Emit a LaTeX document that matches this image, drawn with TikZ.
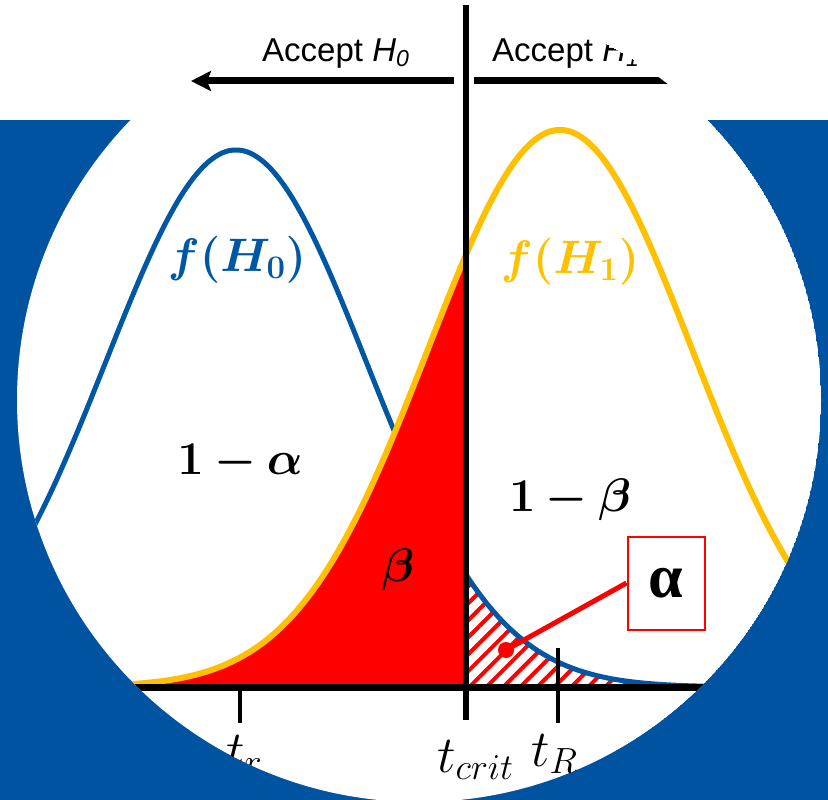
\RequirePackage{fix-cm}
\documentclass[tikz,border=0pt]{standalone}
\usepackage{amsmath}
\usepackage{bm}
\usepackage{fontspec}
\newfontfamily\arialfont{Liberation Sans}
\newfontfamily\timesfont{Liberation Serif}
\usepackage{xcolor}
\usepackage{tikz}
\usetikzlibrary{arrows.meta, patterns.meta}
\definecolor{bgblue}{HTML}{0053A0}
\definecolor{hzero}{HTML}{0057A4}
\definecolor{hone}{HTML}{FFC000}
\definecolor{betared}{HTML}{FF0000}

\begin{document}
\begin{tikzpicture}[
    x=1pt, y=-1pt,
    every node/.style={inner sep=0pt},
    curve/.style={line width=5pt, smooth, samples=120},
    arrow/.style={line width=7pt, -{Stealth[length=20pt, width=20pt, inset=4pt]}},
    tickline/.style={line width=4pt},
    acc/.style={font=\arialfont\fontsize{33}{36}\selectfont, anchor=base west},
    tlab/.style={font=\fontsize{52}{58}\selectfont, anchor=base west},
    big/.style={font=\fontsize{47}{52}\selectfont},
    declare function={
        gzero(\t)=687-537*exp(-0.5*((\t-236)/130)*((\t-236)/130));
        gone(\t)=687-557*exp(-0.5*((\t-560)/132)*((\t-560)/132));
    },
]
\useasboundingbox (0,0) rectangle (828,800);

% Background: blue band and white disc
\fill[white] (0,0) rectangle (828,800);
\fill[bgblue] (0,120) rectangle (828,800);

\begin{scope}
\clip (419,400) circle (402);
\fill[white] (419,400) circle (402);

% alpha: tail of f(H0) right of t_crit
\fill[pattern={Lines[angle=45, distance=12pt, line width=4pt]}, pattern color=betared]
    (466,687) -- plot[domain=466:828, samples=60] (\x,{gzero(\x)}) -- (828,687) -- cycle;
\draw[hzero, curve] plot[domain=0:828] (\x,{gzero(\x)});

% beta: f(H1) left of t_crit
\fill[betared] (0,687) -- plot[domain=0:466, samples=80] (\x,{gone(\x)}) -- (466,687) -- cycle;
\draw[hone, curve, line width=6pt] plot[domain=0:828] (\x,{gone(\x)});

% Axis, critical line and ticks
\draw[line width=7pt] (0,687) -- (828,687);
\coordinate (ctop) at (466,5);
\coordinate (cbot) at (466,720);
\draw[line width=6pt] (ctop) -- (cbot);
\draw[tickline] (240,687) -- (240,723);
\draw[tickline] (558,648) -- (558,723);

% Decision arrows
\coordinate (larr0) at (454,81);
\coordinate (larr1) at (191,81);
\coordinate (rarr0) at (474,81);
\coordinate (rarr1) at (700,81);
\draw[arrow] (larr0) -- (larr1);
\draw[arrow] (rarr0) -- (rarr1);
\node[acc] (acch0) at (262,62) {Accept \textit{H}\textsubscript{\textit{0}}};
\node[acc] (acch1) at (492,62) {Accept \textit{H}\textsubscript{\textit{1}}};

% Curve and area labels
\node[big, text=hzero] (fh0) at (237,260) {$\bm{f(H_0)}$};
\node[big, text=hone] (fh1) at (570,262) {$\bm{f(H_1)}$};
\node[big] (oma) at (240,462) {$\bm{1-\alpha}$};
\node[big] (omb) at (570,500) {$\bm{1-\beta}$};
\node[big] (bet) at (398,570) {$\bm{\beta}$};

% alpha callout
\node[draw=betared, line width=2pt, minimum width=77pt, minimum height=93pt,
      font=\timesfont\bfseries\fontsize{62}{62}\selectfont] (abox) at (666,583) {α};
\coordinate (adot) at (506,650);
\draw[betared, line width=5pt] (abox.west) -- (adot);
\fill[betared] (adot) circle (8);

% Tick labels
\node[tlab] (tl) at (226,767) {$t_r$};
\node[tlab] (tcrit) at (437,772) {$t_{crit}$};
\node[tlab] (tr) at (531,766) {$t_R$};
\end{scope}

\end{tikzpicture}
\end{document}
